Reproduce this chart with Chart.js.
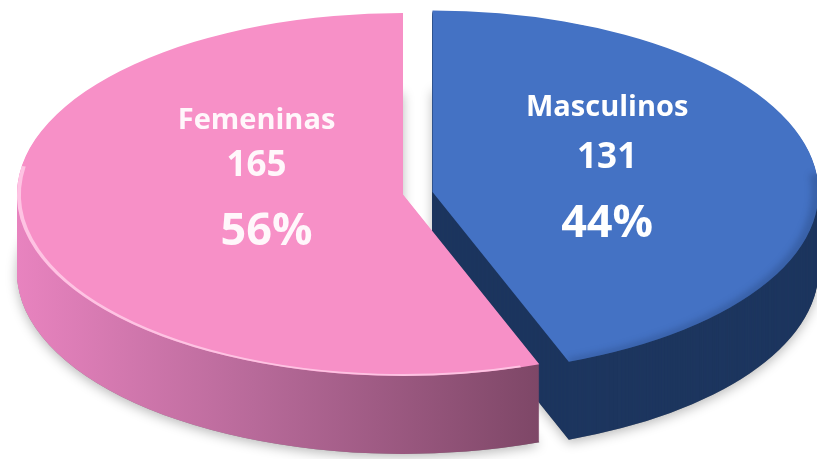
<!DOCTYPE html>
<html><head><meta charset="utf-8">
<script src="https://cdn.jsdelivr.net/npm/chart.js@4/dist/chart.umd.min.js"></script>
<style>html,body{margin:0;padding:0;background:#fff;}canvas{display:block;}</style>
</head><body>
<canvas id="c" width="817" height="459"></canvas>
<script>
// ---- data ----
const categories = ['Masculinos', 'Femeninas'];
const counts = [131, 165];
const percentLabels = ['44%', '56%'];

// ---- styles ----
const topColors = ['#4472C4', '#F790C7'];
const explodePx = [30, 0];
const PIE = {cx: 403, cy: 194.5, r: 386, sy: 0.47, depth: 78};
const labelPlacement = [
  {angle: -22.6, frac: 0.49, nameDy: -50, pctDy: 66, pctDx: 0},
  {angle: 202.3, frac: 0.41, nameDy: -46, pctDy: 66, pctDx: 10}
];
const labelColors = ['#ffffff', 'rgba(255,255,255,0.93)'];
const FONT = '"Open Sans", "Liberation Sans", sans-serif';

function center(chart) {
  const a = chart.chartArea;
  return {ox: (a.left + a.right) / 2, oy: (a.top + a.bottom) / 2};
}
function applyEllipse(ctx, c) {
  ctx.translate(PIE.cx, PIE.cy);
  ctx.scale(1, PIE.sy);
  ctx.translate(-c.ox, -c.oy);
}
function sectorPath(ctx, arc) {
  ctx.beginPath();
  ctx.moveTo(arc.x, arc.y);
  ctx.arc(arc.x, arc.y, arc.outerRadius, arc.startAngle, arc.endAngle);
  ctx.closePath();
}

const pie3d = {
  id: 'pie3d',
  beforeDatasetsDraw(chart) {
    const ctx = chart.ctx;
    const c = center(chart);
    const arcs = chart.getDatasetMeta(0).data;
    arcs.forEach((arc, i) => {
      const e = explodePx[i] || 0;
      const h = (arc.startAngle + arc.endAngle) / 2;
      arc._dx = Math.cos(h) * e; arc._dy = Math.sin(h) * e;
      arc.x += arc._dx; arc.y += arc._dy;
    });
    const pink = arcs[1];
    const gx0 = pink.x - pink.outerRadius;
    const gx1 = pink.x + Math.cos(pink.startAngle) * pink.outerRadius;
    const pg = ctx.createLinearGradient(gx0, 0, gx1, 0);
    pg.addColorStop(0, '#e883bf');
    pg.addColorStop(0.45, '#b86a9a');
    pg.addColorStop(1, '#7e4767');
    const sideFill = ['#1d365f', pg];
    ctx.save();
    ctx.translate(0, PIE.depth);
    applyEllipse(ctx, c);
    ctx.shadowColor = 'rgba(0,0,0,0.28)';
    ctx.shadowBlur = 12;
    ctx.shadowOffsetY = 3;
    arcs.forEach((arc) => { sectorPath(ctx, arc); ctx.fillStyle = '#888'; ctx.fill(); });
    ctx.restore();
    for (let d = PIE.depth; d >= 0.5; d -= 1) {
      ctx.save();
      ctx.translate(0, d);
      applyEllipse(ctx, c);
      arcs.forEach((arc, i) => { sectorPath(ctx, arc); ctx.fillStyle = sideFill[i]; ctx.fill(); });
      ctx.restore();
    }
    ctx.save();
    applyEllipse(ctx, c);
  },
  afterDatasetsDraw(chart) {
    const ctx = chart.ctx;
    const c = center(chart);
    const arcs = chart.getDatasetMeta(0).data;
    const pink = arcs[1];
    ctx.beginPath();
    ctx.arc(pink.x, pink.y, pink.outerRadius - 2, pink.startAngle + 0.05, Math.PI * 1.05);
    ctx.strokeStyle = 'rgba(255,205,232,0.85)';
    ctx.lineWidth = 4;
    ctx.stroke();
    const blue = arcs[0];
    ctx.save();
    ctx.beginPath();
    sectorPath(ctx, blue);
    ctx.clip();
    ctx.beginPath();
    ctx.arc(blue.x, blue.y, blue.outerRadius, -0.1, blue.endAngle);
    ctx.strokeStyle = 'rgba(25,50,95,0.28)';
    ctx.lineWidth = 14;
    ctx.filter = 'blur(3px)';
    ctx.stroke();
    ctx.restore();
    ctx.restore();
    const total = counts.reduce((a, b) => a + b, 0);
    arcs.forEach((arc, i) => {
      const p = labelPlacement[i];
      const a = p.angle * Math.PI / 180;
      const lx = arc.x + Math.cos(a) * arc.outerRadius * p.frac;
      const ly = arc.y + Math.sin(a) * arc.outerRadius * p.frac;
      const sx = lx - c.ox + PIE.cx;
      const sy = (ly - c.oy) * PIE.sy + PIE.cy;
      ctx.save();
      ctx.fillStyle = labelColors[i];
      ctx.textAlign = 'center';
      ctx.textBaseline = 'middle';
      ctx.font = 'bold 29px ' + FONT;
      ctx.fillText(categories[i], sx, sy + p.nameDy);
      ctx.font = 'bold 35px ' + FONT;
      ctx.fillText(String(counts[i]), sx, sy);
      ctx.font = 'bold 45px ' + FONT;
      ctx.fillText(percentLabels[i] || Math.round(counts[i] / total * 100) + '%', sx + p.pctDx, sy + p.pctDy);
      ctx.restore();
    });
    arcs.forEach(arc => { arc.x -= arc._dx || 0; arc.y -= arc._dy || 0; });
  }
};

new Chart(document.getElementById('c'), {
  type: 'pie',
  data: {
    labels: categories,
    datasets: [{
      data: counts,
      backgroundColor: topColors,
      borderWidth: 0,
      radius: PIE.r,
      clip: false
    }]
  },
  options: {
    responsive: false,
    animation: false,
    rotation: 0,
    layout: {padding: 0},
    events: [],
    plugins: {legend: {display: false}, tooltip: {enabled: false}}
  },
  plugins: [pie3d]
});
</script>
</body></html>
